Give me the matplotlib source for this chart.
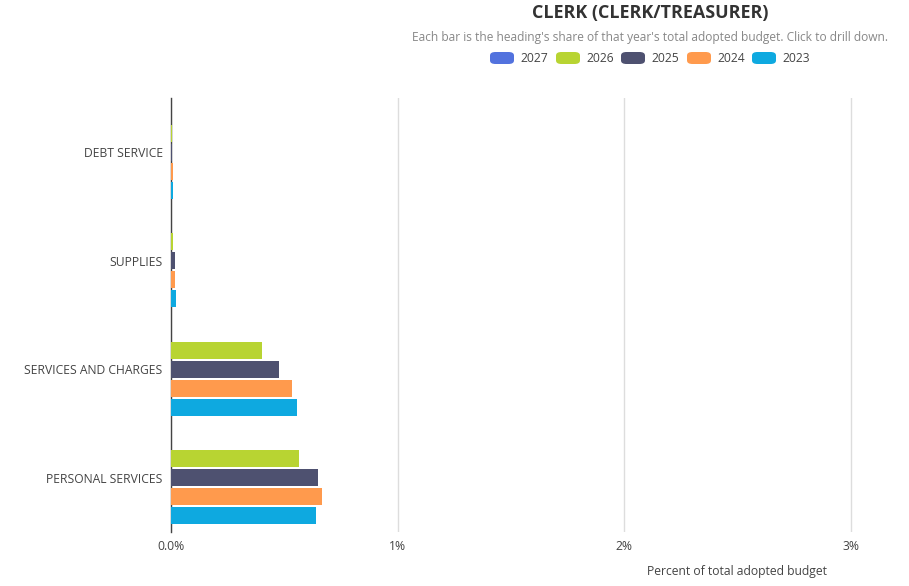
import matplotlib
matplotlib.use("Agg")
import matplotlib.pyplot as plt
from matplotlib.patches import FancyBboxPatch
import numpy as np

plt.rcParams['font.family'] = ['Open Sans', 'DejaVu Sans']

categories = ["DEBT SERVICE", "SUPPLIES", "SERVICES AND CHARGES", "PERSONAL SERVICES"]
years = ["2027", "2026", "2025", "2024", "2023"]
colors = ["#5272DE", "#B8D432", "#4E5170", "#FF9A4D", "#0EA9E0"]
values = {
    "2027": [0, 0, 0, 0],
    "2026": [0.006, 0.010, 0.403, 0.563],
    "2025": [0.006, 0.019, 0.478, 0.647],
    "2024": [0.007, 0.018, 0.534, 0.665],
    "2023": [0.007, 0.020, 0.557, 0.640],
}
xticks = [0, 1, 2, 3]
xtick_labels = ["0.0%", "1%", "2%", "3%"]

W, H = 909, 586
fig = plt.figure(figsize=(W / 100, H / 100), dpi=100)
left, right, top, bottom = 171, 880, 98, 532
ax = fig.add_axes([left / W, 1 - bottom / H, (right - left) / W, (bottom - top) / H])

px_per_cat = (bottom - top) / 4
spacing = 19 / px_per_cat
bar_h = 17 / px_per_cat
y = np.arange(len(categories))
for i, yr in enumerate(years):
    off = (i - 2) * spacing
    ax.barh(y + off, values[yr], height=bar_h, color=colors[i], edgecolor='none', zorder=3)

ax.set_ylim(3.5, -0.5)
ax.set_xlim(0, (right - left) / 226.7)
ax.set_xticks(xticks)
ax.set_xticklabels(xtick_labels)
ax.set_yticks(y)
ax.set_yticklabels(categories)
ax.tick_params(axis='both', length=0, labelsize=8.7, colors='#444444')
ax.tick_params(axis='x', pad=5.5)
ax.tick_params(axis='y', pad=6)
ax.grid(axis='x', color='#DDDDDD', linewidth=1, zorder=0)
ax.set_axisbelow(True)
for s in ['top', 'right', 'bottom']:
    ax.spines[s].set_visible(False)
ax.spines['left'].set_color('#444444')
ax.spines['left'].set_linewidth(1)
ax.spines['left'].set_zorder(1)

fig.text(650 / W, 1 - 13 / H, "CLERK (CLERK/TREASURER)", ha='center', va='center',
         fontsize=12.9, fontweight='bold', color='#333333')
fig.text(650 / W, 1 - 38 / H, "Each bar is the heading's share of that year's total adopted budget. Click to drill down.",
         ha='center', va='center', fontsize=8.65, color='#888888')

# legend
leg_items = [(490, "2027"), (556, "2026"), (621, "2025"), (687, "2024"), (752, "2023")]
for (x0, lab), c in zip(leg_items, colors):
    p = FancyBboxPatch((x0 / W, 1 - 64 / H), 24 / W, 12 / H,
                       boxstyle="round,pad=0,rounding_size=0.006", transform=fig.transFigure,
                       facecolor=c, edgecolor='none')
    fig.patches.append(p)
    fig.text((x0 + 30) / W, 1 - 58 / H, lab, ha='left', va='center', fontsize=8.7, color='#444444')

fig.text(737 / W, 1 - 572 / H, "Percent of total adopted budget", ha='center', va='center',
         fontsize=8.7, color='#444444')

fig.savefig("out.png", dpi=100)
